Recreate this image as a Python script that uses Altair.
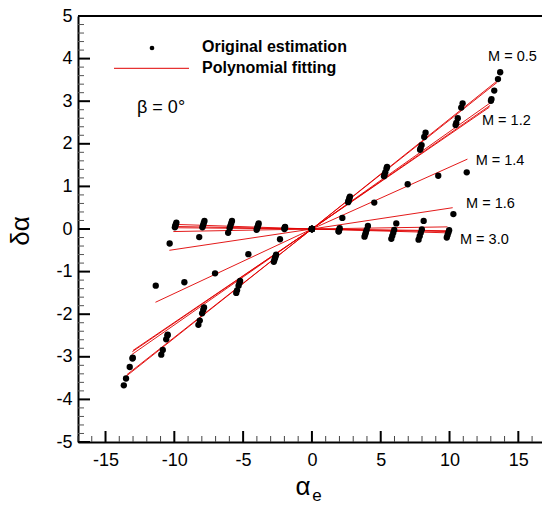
import altair as alt
import pandas as pd

# ---------------- data ----------------
series_ids = ["S1", "S2", "S3", "S4", "S5", "P14", "P16", "F1", "F2", "F3", "F4"]

# original estimation points: alpha_e (x) and delta alpha (y)
ae_S1 = [-13.67, -10.95, -8.25, -5.50, -2.77, 0, 2.76, 5.46, 8.26, 10.95, 13.68]
da_S1 = [-3.67, -2.95, -2.25, -1.50, -0.77, 0, 0.76, 1.46, 2.26, 2.95, 3.68]
ae_S2 = [-13.51, -10.84, -8.15, -5.44, -2.73, 0, 2.73, 5.42, 8.16, 10.85, 13.52]
da_S2 = [-3.51, -2.84, -2.15, -1.44, -0.73, 0, 0.73, 1.42, 2.16, 2.85, 3.52]
ae_S3 = [-13.24, -10.59, -7.98, -5.33, -2.68, 0, 2.69, 5.33, 7.97, 10.60, 13.25]
da_S3 = [-3.24, -2.59, -1.98, -1.33, -0.68, 0, 0.69, 1.33, 1.97, 2.60, 3.25]
ae_S4 = [-13.04, -10.50, -7.90, -5.27, -2.64, 0, 2.66, 5.27, 7.90, 10.49, 13.05]
da_S4 = [-3.04, -2.50, -1.90, -1.27, -0.64, 0, 0.66, 1.27, 1.90, 2.49, 3.05]
ae_S5 = [-13.02, -10.48, -7.84, -5.22, -2.60, 0, 2.63, 5.24, 7.86, 10.44, 13.01]
da_S5 = [-3.02, -2.48, -1.84, -1.22, -0.60, 0, 0.63, 1.24, 1.86, 2.44, 3.01]
ae_P14 = [-11.35, -9.27, -7.04, -4.62, -2.32, 0, 2.21, 4.53, 6.96, 9.18, 11.25]
da_P14 = [-1.33, -1.25, -1.04, -0.59, -0.24, 0, 0.26, 0.62, 1.05, 1.25, 1.33]
ae_P16 = [-10.34, -8.19, -6.09, -4.02, -2.00, 0, 2.02, 4.07, 6.13, 8.12, 10.28]
da_P16 = [-0.34, -0.19, -0.09, -0.02, 0.00, 0, 0.02, 0.07, 0.13, 0.19, 0.35]
ae_F1 = [-9.85, -7.81, -5.81, -3.87, -1.95, 0, 1.94, 3.82, 5.77, 7.75, 9.80]
da_F1 = [0.15, 0.19, 0.19, 0.13, 0.05, 0, -0.06, -0.18, -0.23, -0.25, -0.20]
ae_F2 = [-9.89, -7.86, -5.87, -3.91, -1.96, 0, 1.95, 3.87, 5.84, 7.83, 9.86]
da_F2 = [0.11, 0.14, 0.13, 0.09, 0.04, 0, -0.05, -0.13, -0.16, -0.17, -0.14]
ae_F3 = [-9.93, -7.91, -5.93, -3.95, -1.97, 0, 1.97, 3.92, 5.91, 7.91, 9.92]
da_F3 = [0.07, 0.09, 0.07, 0.05, 0.03, 0, -0.03, -0.08, -0.09, -0.09, -0.08]
ae_F4 = [-9.96, -7.96, -5.98, -3.98, -1.98, 0, 1.98, 3.98, 5.98, 7.99, 9.97]
da_F4 = [0.04, 0.04, 0.02, 0.02, 0.02, 0, -0.02, -0.02, -0.02, -0.01, -0.03]

# polynomial fitting curves (x, y) per series
fx_S1 = [-13.55, 0, 13.55]; fy_S1 = [-3.47, 0, 3.50]
fx_S2 = [-13.45, 0, 13.45]; fy_S2 = [-3.42, 0, 3.44]
fx_S3 = [-13.10, 0, 13.00]; fy_S3 = [-2.95, 0, 2.97]
fx_S4 = [-13.05, 0, 12.95]; fy_S4 = [-2.88, 0, 2.90]
fx_S5 = [-13.00, 0, 12.90]; fy_S5 = [-2.85, 0, 2.86]
fx_P14 = [-11.37, 0, 11.30]; fy_P14 = [-1.72, 0, 1.64]
fx_P16 = [-10.36, 0, 10.23]; fy_P16 = [-0.50, 0, 0.50]
fx_F1 = [-10.07, 0, 9.85]; fy_F1 = [0.11, 0, -0.09]
fx_F2 = [-10.07, 0, 9.85]; fy_F2 = [0.06, 0, -0.06]
fx_F3 = [-10.07, 0, 9.85]; fy_F3 = [0.03, 0, -0.04]
fx_F4 = [-10.07, 0, 9.85]; fy_F4 = [-0.06, 0, 0.05]

# Mach labels
mach_text = ["M = 0.5", "M = 1.2", "M = 1.4", "M = 1.6", "M = 3.0"]
mach_x = [12.80, 12.36, 11.90, 11.20, 10.76]
mach_y = [4.04, 2.53, 1.59, 0.58, -0.26]

x_major = [-15, -10, -5, 0, 5, 10, 15]
x_minor = [v for v in range(-17, 17) if v % 5 != 0]
y_major = [-5, -4, -3, -2, -1, 0, 1, 2, 3, 4, 5]
y_minor = [round(-5 + 0.2 * i, 1) for i in range(51) if i % 5 != 0]

# ---------------- tables ----------------
pts_src = {
    "S1": (ae_S1, da_S1), "S2": (ae_S2, da_S2), "S3": (ae_S3, da_S3),
    "S4": (ae_S4, da_S4), "S5": (ae_S5, da_S5), "P14": (ae_P14, da_P14),
    "P16": (ae_P16, da_P16), "F1": (ae_F1, da_F1), "F2": (ae_F2, da_F2),
    "F3": (ae_F3, da_F3), "F4": (ae_F4, da_F4),
}
fit_src = {
    "S1": (fx_S1, fy_S1), "S2": (fx_S2, fy_S2), "S3": (fx_S3, fy_S3),
    "S4": (fx_S4, fy_S4), "S5": (fx_S5, fy_S5), "P14": (fx_P14, fy_P14),
    "P16": (fx_P16, fy_P16), "F1": (fx_F1, fy_F1), "F2": (fx_F2, fy_F2),
    "F3": (fx_F3, fy_F3), "F4": (fx_F4, fy_F4),
}
pts = pd.DataFrame([
    {"series": s, "ae": a, "da": d}
    for s in series_ids for a, d in zip(*pts_src[s])
])
fits = pd.DataFrame([
    {"series": s, "ae": a, "da": d, "o": i}
    for s in series_ids for i, (a, d) in enumerate(zip(*fit_src[s]))
])
labels = pd.DataFrame({"t": mach_text, "ae": mach_x, "da": mach_y})

W, H = 464, 426
FONT = "Liberation Sans"
RED = "#e00000"

xs = alt.Scale(domain=[-17, 16.72], nice=False, zero=False)
ys = alt.Scale(domain=[-5, 5], nice=False, zero=False)

x_axis = alt.Axis(values=x_major, ticks=False, tickSize=0, grid=False,
                  domainColor="black", domainWidth=2, labelFontSize=18,
                  labelFont=FONT, labelColor="black", labelPadding=9,
                  labelExpr="'' + datum.value", labelFlush=False, title=None)
y_axis = alt.Axis(values=y_major, ticks=False, tickSize=0, grid=False,
                  domainColor="black", domainWidth=2, labelFontSize=18,
                  labelFont=FONT, labelColor="black", labelPadding=6,
                  labelExpr="'' + datum.value", labelFlush=False, title=None)


def X(field):
    return alt.X(field, scale=xs, axis=x_axis)


def Y(field):
    return alt.Y(field, scale=ys, axis=y_axis)


lines = alt.Chart(fits).mark_line(color=RED, strokeWidth=1, opacity=0.9).encode(
    x=X("ae:Q"), y=Y("da:Q"), detail="series:N", order="o:Q",
)
points = alt.Chart(pts).mark_circle(size=40, color="black", opacity=1).encode(
    x=X("ae:Q"), y=Y("da:Q"),
)
mach = alt.Chart(labels).mark_text(align="left", baseline="middle", font=FONT,
                                   fontSize=14.5, color="black").encode(
    x=X("ae:Q"), y=Y("da:Q"), text="t:N",
)

xmaj = alt.Chart(pd.DataFrame({"ae": x_major})).mark_rule(color="black", strokeWidth=2).encode(
    x=X("ae:Q"), y=alt.value(H), y2=alt.value(H - 11))
xmin = alt.Chart(pd.DataFrame({"ae": x_minor})).mark_rule(color="#444", strokeWidth=1).encode(
    x=X("ae:Q"), y=alt.value(H), y2=alt.value(H - 6))
ymaj = alt.Chart(pd.DataFrame({"da": y_major})).mark_rule(color="black", strokeWidth=2).encode(
    y=Y("da:Q"), x=alt.value(0), x2=alt.value(12))
ymin = alt.Chart(pd.DataFrame({"da": y_minor})).mark_rule(color="#555", strokeWidth=1).encode(
    y=Y("da:Q"), x=alt.value(0), x2=alt.value(6))
top = alt.Chart(pd.DataFrame({"v": [0]})).mark_rule(color="black", strokeWidth=2).encode(
    x=alt.value(0), x2=alt.value(W), y=alt.value(0))

one = pd.DataFrame({"v": [0]})
leg_dot = alt.Chart(one).mark_circle(size=22, color="black", opacity=1).encode(
    x=alt.value(74), y=alt.value(32))
leg_line = alt.Chart(one).mark_rule(color=RED, strokeWidth=1).encode(
    x=alt.value(36), x2=alt.value(111), y=alt.value(52.3))
leg_t1 = alt.Chart(one).mark_text(text="Original estimation", align="left", baseline="middle",
                                  font=FONT, fontSize=16, fontWeight="bold", color="black").encode(
    x=alt.value(124), y=alt.value(30.7))
leg_t2 = alt.Chart(one).mark_text(text="Polynomial fitting", align="left", baseline="middle",
                                  font=FONT, fontSize=16, fontWeight="bold", color="black").encode(
    x=alt.value(124), y=alt.value(51.5))
beta = alt.Chart(one).mark_text(text="β = 0°", align="left", baseline="middle",
                                font=FONT, fontSize=18, color="black").encode(
    x=alt.value(59), y=alt.value(92))
ytitle = alt.Chart(one).mark_text(text="δα", align="center", baseline="middle", angle=270,
                                  font=FONT, fontSize=26, color="black").encode(
    x=alt.value(-57), y=alt.value(215))
xt_a = alt.Chart(one).mark_text(text="α", align="center", baseline="middle",
                                font=FONT, fontSize=26, color="black").encode(
    x=alt.value(225), y=alt.value(471))
xt_e = alt.Chart(one).mark_text(text="e", align="center", baseline="middle",
                                font=FONT, fontSize=17, color="black").encode(
    x=alt.value(239), y=alt.value(480))

chart = alt.layer(
    lines, xmin, xmaj, ymin, ymaj, top, points, mach,
    leg_dot, leg_line, leg_t1, leg_t2, beta, ytitle, xt_a, xt_e,
).properties(
    width=W, height=H,
    autosize=alt.AutoSizeParams(type="none"),
    padding={"left": 78, "top": 16, "right": 0, "bottom": 64},
).configure_view(stroke="transparent")

chart.save("out.html", embed_options={"renderer": "svg", "actions": False})
